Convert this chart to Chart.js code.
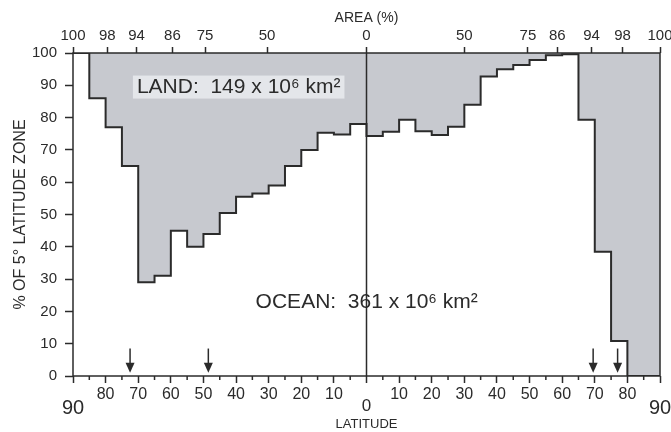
<!DOCTYPE html>
<html>
<head>
<meta charset="utf-8">
<script src="https://cdn.jsdelivr.net/npm/chart.js@4.4.0/dist/chart.umd.min.js"></script>
<style>
html, body { margin: 0; padding: 0; background: #fff; }
</style>
</head>
<body>
<canvas id="chart" width="671" height="432"></canvas>
<script>
// % ocean in each 5 degree zone, 90N -> 0 and 0 -> 90S
const northOcean = [100, 86, 77, 65, 29, 31, 45, 40, 44, 50.5, 55.5, 56.5, 59, 65, 70, 75.3, 74.8, 78];
const southOcean = [74.3, 75.6, 79.3, 75.8, 74.6, 77.2, 84, 92.7, 95, 96.3, 97.8, 99.3, 99.6, 79.3, 38.5, 10.8, 0, 0];

// top axis: cumulative area (%) placed at latitude
const topTickLats = [-90, -79.5, -70.5, -59.5, -49.5, -30.5, 0, 30, 49.5, 58.5, 69, 78.5, 90];
const topTickLabels = ['100', '98', '94', '86', '75', '50', '0', '50', '75', '86', '94', '98', '100'];

const arrowLats = [-72.5, -48.5, 69.5, 77];

const ink = '#2b2b2b';
const fillGrey = '#c7c9cf';
const FONT = "'Liberation Sans', Arial, sans-serif";

Chart.defaults.font.family = FONT;
Chart.defaults.color = ink;

const points = [];
northOcean.forEach((v, i) => points.push({ x: -90 + 5 * i, y: v }));
southOcean.forEach((v, i) => points.push({ x: 5 * i, y: v }));
points.push({ x: 90, y: southOcean[southOcean.length - 1] });

const decor = {
    id: 'decor',
    afterDatasetsDraw(chart) {
        const { ctx, chartArea: a, scales: { x, y } } = chart;
        ctx.save();
        ctx.strokeStyle = ink;
        ctx.fillStyle = ink;
        ctx.lineWidth = 1.5;

        // zero line and frame
        const x0 = x.getPixelForValue(0);
        ctx.beginPath();
        ctx.moveTo(x0, a.top);
        ctx.lineTo(x0, a.bottom);
        ctx.stroke();
        ctx.strokeRect(a.left, a.top, a.right - a.left, a.bottom - a.top);

        // minor ticks
        ctx.beginPath();
        for (let v = -85; v < 90; v += 10) {
            const px = x.getPixelForValue(v);
            ctx.moveTo(px, a.bottom);
            ctx.lineTo(px, a.bottom + 4);
        }
        ctx.stroke();

        // arrows
        arrowLats.forEach(lat => {
            const px = x.getPixelForValue(lat);
            const yTop = y.getPixelForValue(8.5);
            const yBot = y.getPixelForValue(1);
            ctx.beginPath();
            ctx.moveTo(px, yTop);
            ctx.lineTo(px, yBot - 6);
            ctx.stroke();
            ctx.beginPath();
            ctx.moveTo(px - 4.5, yBot - 10);
            ctx.lineTo(px + 4.5, yBot - 10);
            ctx.lineTo(px, yBot);
            ctx.closePath();
            ctx.fill();
        });

        // labels
        ctx.textBaseline = 'middle';
        ctx.font = '21px ' + FONT;
        const landText = 'LAND:  149 x 10\u2076 km\u00b2';
        const lx = x.getPixelForValue(-70.4);
        const ly = y.getPixelForValue(89.3);
        const lw = ctx.measureText(landText).width;
        ctx.fillStyle = '#e4e6ea';
        ctx.fillRect(lx - 4, ly - 12, lw + 8, 23);
        ctx.fillStyle = ink;
        ctx.textAlign = 'left';
        ctx.fillText(landText, lx, ly);

        ctx.fillText('OCEAN:  361 x 10\u2076 km\u00b2', x.getPixelForValue(-34), y.getPixelForValue(23));

        // bottom axis extras
        ctx.textAlign = 'center';
        ctx.font = '20px ' + FONT;
        ctx.fillText('90', a.left, 408);
        ctx.fillText('90', a.right, 408);
        ctx.font = '17px ' + FONT;
        ctx.fillText('0', x0, 406);
        ctx.font = '13px ' + FONT;
        ctx.fillText('LATITUDE', x0, 424);
        ctx.restore();
    }
};

new Chart(document.getElementById('chart'), {
    type: 'line',
    data: {
        datasets: [{
            data: points,
            stepped: true,
            fill: 'end',
            backgroundColor: fillGrey,
            borderColor: ink,
            borderWidth: 2,
            pointRadius: 0,
            xAxisID: 'x',
            yAxisID: 'y'
        }]
    },
    options: {
        responsive: false,
        animation: false,
        layout: { padding: { left: 0, right: 11, top: 0, bottom: 0 } },
        plugins: { legend: { display: false }, tooltip: { enabled: false } },
        scales: {
            x: {
                type: 'linear',
                position: 'bottom',
                min: -90,
                max: 90,
                ticks: {
                    stepSize: 10,
                    autoSkip: false,
                    maxRotation: 0,
                    padding: 2,
                    font: { size: 16 },
                    callback: v => (v === 0 || Math.abs(v) === 90) ? '' : String(Math.abs(v))
                },
                grid: { drawOnChartArea: false, tickLength: 7, tickColor: ink, tickWidth: 1.5 },
                border: { display: false },
                afterFit(s) { s.height = 56; s.paddingLeft = 0; s.paddingRight = 0; }
            },
            x2: {
                type: 'linear',
                position: 'top',
                min: -90,
                max: 90,
                afterBuildTicks(s) { s.ticks = topTickLats.map(v => ({ value: v })); },
                ticks: {
                    autoSkip: false,
                    maxRotation: 0,
                    padding: 2,
                    font: { size: 15 },
                    callback: (v, i) => topTickLabels[i]
                },
                grid: { drawOnChartArea: false, tickLength: 6, tickColor: ink, tickWidth: 1.5 },
                border: { display: false },
                title: { display: true, text: 'AREA (%)', font: { size: 14 }, padding: { top: 10, bottom: 0 } },
                afterFit(s) { s.height = 53; s.paddingLeft = 0; s.paddingRight = 0; }
            },
            y: {
                min: 0,
                max: 100,
                ticks: { stepSize: 10, padding: 8, font: { size: 15 } },
                grid: { drawOnChartArea: false, tickLength: 8, tickColor: ink, tickWidth: 1.5 },
                border: { display: false },
                title: { display: true, text: '% OF 5\u00b0 LATITUDE ZONE', font: { size: 16 }, padding: { top: 11, bottom: 0 } },
                afterFit(s) { s.width = 73; s.paddingTop = 0; s.paddingBottom = 0; }
            }
        }
    },
    plugins: [decor]
});
</script>
</body>
</html>
